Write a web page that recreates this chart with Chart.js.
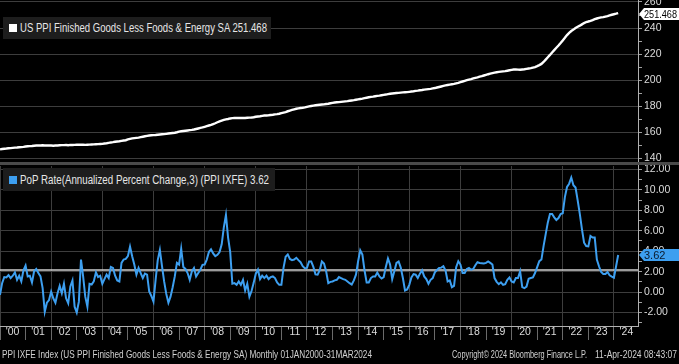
<!DOCTYPE html>
<html><head><meta charset="utf-8">
<script src="https://cdn.jsdelivr.net/npm/chart.js@4.4.1/dist/chart.umd.min.js"></script>
<style>
html,body{margin:0;padding:0;background:#000;width:679px;height:364px;overflow:hidden;position:relative}
canvas{position:absolute;left:0}
#cTop{top:0}
#cBot{top:164px}
#sep{position:absolute;left:0;top:162px;width:679px;height:3px;background:#4a4a4a}
.leg{position:absolute;background:#1d1d1d;color:#e6e6e6;font:12px "Liberation Sans",Arial,sans-serif;white-space:nowrap;overflow:hidden}
.leg .sq{position:absolute;left:6px;width:8px;height:8px}
.leg .t{position:absolute;left:17px;display:inline-block;transform-origin:0 50%}
.foot{position:absolute;top:348px;color:#d0d0d0;font:11px "Liberation Sans",Arial,sans-serif;white-space:nowrap;transform-origin:0 0}
</style></head>
<body>
<canvas id="cTop" width="679" height="166"></canvas>
<canvas id="cBot" width="679" height="180"></canvas>
<div id="sep"></div>
<div class="leg" id="leg1" style="left:3px;top:17px;width:268px;height:22px"><span class="sq" style="background:#fff;top:7px"></span><span class="t" style="top:4px"></span></div>
<div class="leg" id="leg2" style="left:3px;top:168px;width:272px;height:23px"><span class="sq" style="background:#3d9ff0;top:8px"></span><span class="t" style="top:5px"></span></div>
<div class="foot" id="f1" style="left:2px"></div>
<div class="foot" id="f2" style="left:452px"></div>
<div class="foot" id="f3" style="left:595px"></div>
<script>
// ---- data ----
const yearLabels = ["'00","'01","'02","'03","'04","'05","'06","'07","'08","'09","'10","'11","'12","'13","'14","'15","'16","'17","'18","'19","'20","'21","'22","'23","'24"];
const levelName = "US PPI Finished Goods Less Foods & Energy SA";
const rateName = "PoP Rate(Annualized Percent Change,3) (PPI IXFE)";
// monthly Jan 2000 .. Mar 2024
const ppiLevel = [
147.0,147.3,147.5,147.6,147.8,147.9,148.1,148.3,148.4,148.6,148.7,148.9,
149.2,149.4,149.5,149.6,149.8,149.9,150.0,150.0,150.1,150.0,149.9,149.9,
149.9,149.8,149.9,150.0,150.1,150.2,150.2,150.3,150.2,150.4,150.3,150.4,
150.5,150.6,150.5,150.6,150.4,150.5,150.6,150.7,150.8,150.9,151.0,151.1,
151.2,151.5,151.7,152.0,152.3,152.5,152.8,153.0,153.2,153.5,153.8,154.0,
154.6,155.0,155.4,155.6,155.8,156.0,156.4,156.7,157.0,157.3,157.6,157.8,
157.9,158.0,158.2,158.4,158.6,158.7,158.9,159.1,159.3,159.5,159.7,160.1,
160.6,160.9,161.1,161.3,161.5,161.7,161.9,162.2,162.6,163.0,163.4,163.8,
164.3,164.8,165.3,165.8,166.4,167.0,167.8,168.5,169.1,169.6,170.0,170.3,
170.7,170.9,171.0,171.0,171.0,171.0,171.1,171.0,171.2,171.3,171.4,171.6,
172.0,172.2,172.4,172.7,172.9,173.0,173.1,173.3,173.5,173.8,174.0,174.3,
174.8,175.2,175.6,176.2,176.7,177.2,177.7,178.1,178.4,178.7,178.9,179.2,
179.6,179.9,180.2,180.5,180.8,181.0,181.2,181.4,181.5,181.8,182.0,182.3,
182.6,182.9,183.1,183.2,183.4,183.6,183.8,184.0,184.3,184.5,184.7,185.0,
185.3,185.6,185.9,186.3,186.6,186.9,187.2,187.4,187.7,188.0,188.2,188.5,
188.8,189.0,189.3,189.6,189.8,190.0,190.2,190.3,190.5,190.7,190.8,190.9,
191.1,191.3,191.5,191.8,192.0,192.3,192.5,192.8,193.0,193.2,193.4,193.7,
194.0,194.4,194.8,195.2,195.6,196.0,196.3,196.6,196.9,197.2,197.6,198.0,
198.5,199.0,199.5,200.0,200.5,200.9,201.4,201.8,202.2,202.7,203.1,203.6,
204.1,204.6,205.0,205.4,205.8,206.1,206.4,206.6,206.8,207.0,207.3,207.6,
207.9,208.2,208.3,208.1,208.0,208.2,208.4,208.7,209.0,209.3,209.7,210.1,
210.8,211.6,212.5,214.0,215.8,217.6,219.4,221.3,223.1,224.9,226.6,228.5,
230.5,232.5,234.6,236.3,237.7,238.8,240.0,241.0,241.8,242.8,243.8,244.6,
245.0,245.5,246.1,246.8,247.3,247.8,248.2,248.4,248.8,249.2,249.7,250.2,
250.6,251.0,251.468];
const popRate = [
-0.28,0.87,1.47,1.43,1.66,1.37,1.60,1.93,1.20,1.60,1.04,2.13,
2.60,1.53,1.60,0.94,2.03,2.26,1.86,1.53,0.38,-1.93,-1.04,-0.78,
0.05,-0.61,-1.04,-0.12,0.60,-0.12,0.81,-0.61,-1.10,0.55,1.14,-1.43,
-2.00,-0.94,3.18,1.53,-0.45,-1.43,0.81,0.74,1.04,1.93,1.47,1.60,
0.81,1.27,1.70,1.37,2.46,2.36,1.60,1.14,1.04,2.85,3.18,3.24,
3.51,4.44,3.51,2.69,1.70,2.36,1.86,1.37,1.80,1.70,0.05,-0.38,
-0.94,1.20,3.12,4.11,2.53,1.04,-0.18,-1.04,-0.45,0.47,1.53,2.85,
2.69,4.24,2.46,2.26,1.86,1.20,2.03,2.36,1.53,1.86,2.19,2.66,
2.69,3.18,3.91,4.17,3.78,3.51,3.64,3.91,4.67,6.32,7.54,5.33,
3.91,0.81,0.87,0.71,1.04,0.71,1.20,0.15,0.81,-0.45,0.10,0.90,
1.80,2.19,1.27,1.60,1.37,1.60,1.27,1.47,1.53,1.37,0.94,0.71,
0.71,2.36,3.45,3.68,3.24,3.12,3.18,3.35,3.12,2.92,2.53,2.33,
2.36,2.99,2.99,2.46,1.73,1.70,2.13,2.99,2.79,2.03,0.87,1.00,
1.04,1.14,1.20,1.47,1.37,1.27,1.20,1.04,0.87,0.74,1.14,1.70,
3.02,4.08,3.68,2.13,0.94,0.94,1.37,1.53,1.53,1.90,1.53,1.33,
1.47,2.46,3.28,2.69,1.27,2.03,2.85,2.99,2.39,1.37,0.15,0.25,
0.71,1.43,1.76,1.70,1.37,1.80,2.13,1.53,1.27,0.81,1.20,1.37,
1.93,2.16,2.36,2.39,2.53,2.13,1.04,1.14,0.48,0.61,2.43,3.02,
2.69,1.86,1.86,2.26,2.36,2.19,2.26,2.62,2.92,2.85,2.82,2.79,
2.85,2.99,2.85,2.69,1.37,1.00,0.77,0.95,0.71,0.78,1.20,1.43,
1.04,0.94,1.37,1.37,2.03,0.48,0.38,0.54,1.30,1.37,1.43,1.86,
2.43,3.02,3.18,4.50,5.66,6.81,7.64,7.64,7.31,7.05,7.24,7.64,
7.71,9.29,10.28,10.60,11.20,10.45,10.22,8.96,7.64,6.15,4.83,4.50,
4.47,5.49,5.33,5.33,3.18,2.52,1.96,1.76,1.76,1.96,1.63,1.50,
1.40,2.50,3.62];
const rateMeanLine = 2.15;
const footLeft = "PPI IXFE Index (US PPI Finished Goods Less Foods & Energy SA)  Monthly 01JAN2000-31MAR2024";
const footMid = "Copyright\u00A9 2024 Bloomberg Finance L.P.";
const footRight = "11-Apr-2024 08:43:07";

// ---- helpers ----
const FONT = '"Liberation Sans", Arial, sans-serif';
const X_MIN = 0, X_MAX = 299.3;
const TRANSPARENT = 'rgba(0,0,0,0)';
const toPts = arr => arr.map((v, i) => ({x: i, y: v}));

const badgePlugin = {
  id: 'badge',
  afterDraw(chart, args, o) {
    const ctx = chart.ctx, ys = chart.scales.y;
    const d = chart.data.datasets[o.ds || 0].data;
    const last = d[d.length - 1].y;
    const y = Math.round(ys.getPixelForValue(last)) + (o.dy || 0);
    const x0 = chart.chartArea.right + 1, h = o.h / 2;
    ctx.save();
    ctx.fillStyle = o.bg;
    ctx.beginPath();
    ctx.moveTo(x0, y); ctx.lineTo(x0 + 5, y - h); ctx.lineTo(679, y - h);
    ctx.lineTo(679, y + h); ctx.lineTo(x0 + 5, y + h); ctx.closePath(); ctx.fill();
    ctx.fillStyle = o.fg;
    ctx.font = '11px ' + FONT;
    ctx.textBaseline = 'middle';
    const txt = last.toFixed(o.dec);
    const maxW = 679 - (x0 + 5) - 2;
    ctx.fillText(txt, x0 + 5, y + 0.5, Math.min(maxW, ctx.measureText(txt).width));
    ctx.restore();
  }
};

const yAxisCommon = (min, max, step, major, fmt) => ({
  position: 'right', min, max,
  afterBuildTicks(s) { s.ticks = []; for (let v = Math.ceil(min / step) * step; v <= max; v += step) s.ticks.push({value: v}); },
  afterFit(s) { s.width = 41; s.paddingTop = 0; s.paddingBottom = 0; },
  ticks: {color: '#dcdcdc', font: {size: 10.5, family: FONT}, padding: 2, autoSkip: false,
          callback: v => (Math.abs(v % major) < 1e-6 ? fmt(v) : '')},
  grid: {color: c => (c.tick && Math.abs(c.tick.value % major) < 1e-6 ? '#3d3d3d' : TRANSPARENT),
         tickColor: '#a0a0a0', tickLength: 4, lineWidth: 1},
  border: {display: true, color: '#b0b0b0', width: 1}
});

new Chart(document.getElementById('cTop'), {
  type: 'line',
  data: {datasets: [{data: toPts(ppiLevel), borderColor: '#ffffff', borderWidth: 2.4, pointRadius: 0, tension: 0}]},
  options: {
    animation: false, responsive: false, devicePixelRatio: 1,
    layout: {padding: {left: 0, right: 0, top: 0, bottom: 1}},
    plugins: {legend: {display: false}, tooltip: {enabled: false},
              badge: {bg: '#ffffff', fg: '#000000', h: 12, dec: 3, dy: 1}},
    scales: {
      x: {type: 'linear', min: X_MIN, max: X_MAX, display: false},
      y: yAxisCommon(135, 261.5, 10, 20, v => String(v))
    }
  },
  plugins: [badgePlugin]
});

new Chart(document.getElementById('cBot'), {
  type: 'line',
  data: {datasets: [
    {data: toPts(popRate), borderColor: '#3d9ff0', borderWidth: 2, pointRadius: 0, tension: 0, order: 1},
    {data: [{x: X_MIN, y: rateMeanLine}, {x: X_MAX, y: rateMeanLine}], borderColor: '#cfcfcf', borderWidth: 1.5, pointRadius: 0, order: 2}
  ]},
  options: {
    animation: false, responsive: false, devicePixelRatio: 1,
    layout: {padding: {left: 0, right: 0, top: 2, bottom: 0}},
    plugins: {legend: {display: false}, tooltip: {enabled: false},
              badge: {bg: '#3d9ff0', fg: '#0b1a2c', h: 12, dec: 2, ds: 0}},
    scales: {
      x: {type: 'linear', min: X_MIN, max: X_MAX, position: 'bottom',
          afterBuildTicks(s) { s.ticks = yearLabels.map((_, i) => ({value: i * 12})); },
          afterFit(s) { s.height = 18; s.paddingLeft = 0; s.paddingRight = 0; },
          ticks: {color: '#dcdcdc', font: {size: 10.5, family: FONT}, autoSkip: false, maxRotation: 0,
                  padding: -14, labelOffset: 12.5, callback: (v, i) => yearLabels[i]},
          grid: {color: c => (c.tick && (c.tick.value / 12) % 2 === 0 ? '#3d3d3d' : TRANSPARENT),
                 tickColor: '#6a6a6a', tickLength: 14, lineWidth: 1},
          border: {display: true, color: '#b0b0b0'}},
      y: yAxisCommon(-3.32, 12.33, 1, 2, v => v.toFixed(2))
    }
  },
  plugins: [badgePlugin]
});

// ---- legends and footer (real text, condensed to Bloomberg-like width) ----
function fit(el, text, w) {
  el.textContent = text;
  const r = el.getBoundingClientRect().width;
  el.style.transform = 'scaleX(' + (w / r) + ')';
}
fit(document.querySelector('#leg1 .t'), levelName + ' ' + ppiLevel[ppiLevel.length - 1].toFixed(3), 247);
fit(document.querySelector('#leg2 .t'), rateName + ' ' + popRate[popRate.length - 1].toFixed(2), 249);
fit(document.getElementById('f1'), footLeft, 370);
fit(document.getElementById('f2'), footMid, 135);
fit(document.getElementById('f3'), footRight, 82);
</script>
</body></html>
